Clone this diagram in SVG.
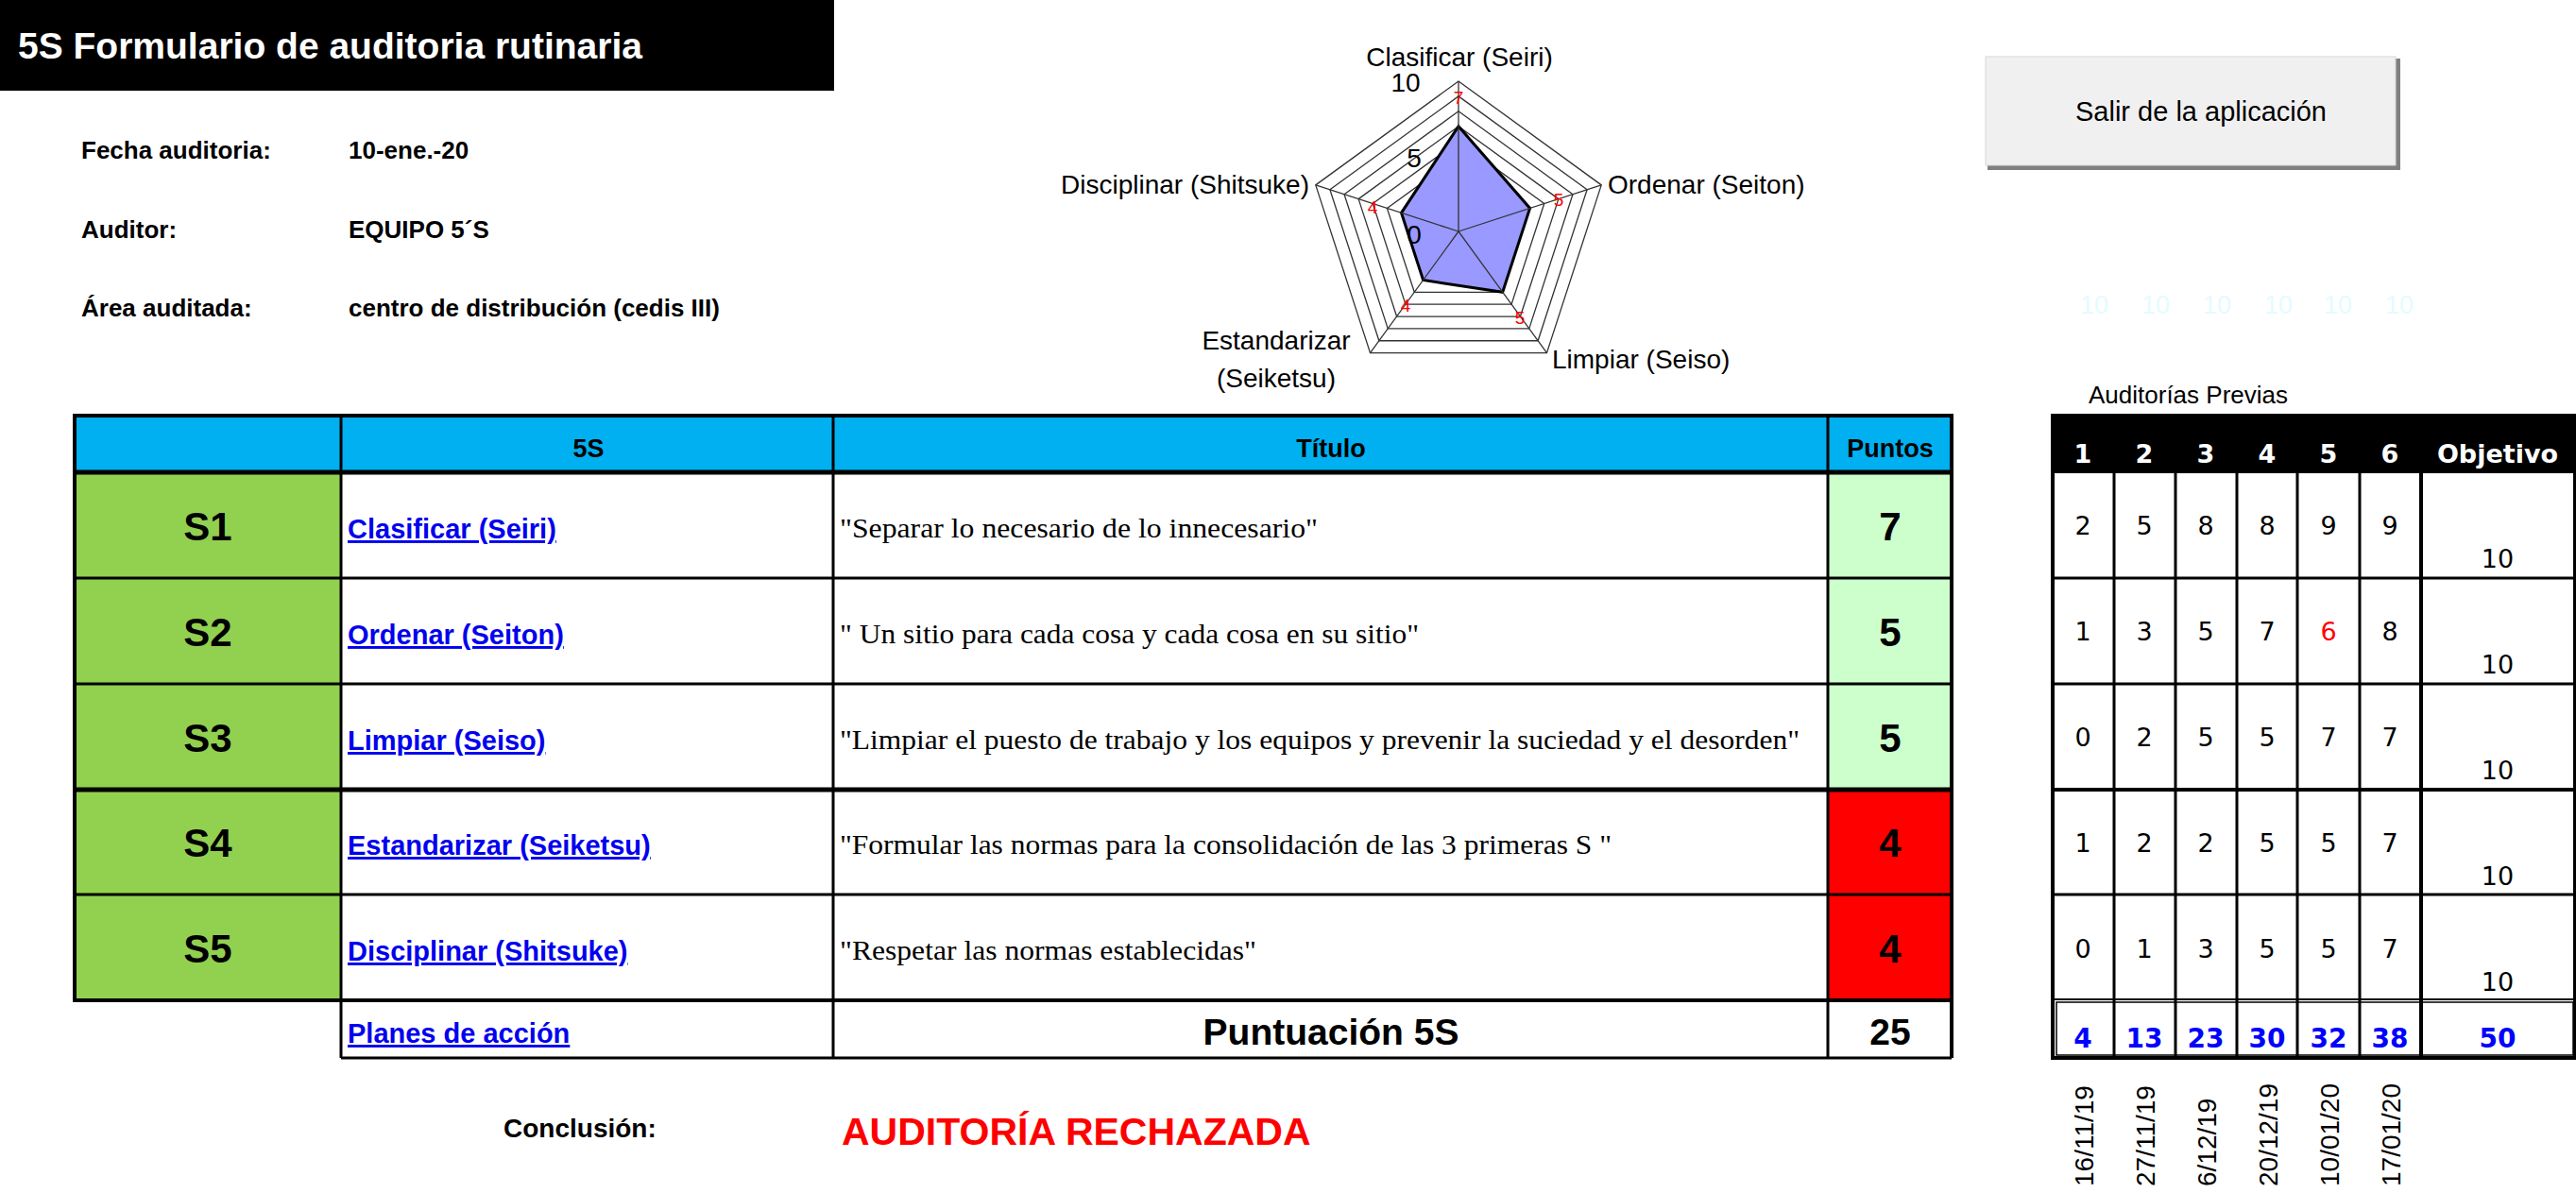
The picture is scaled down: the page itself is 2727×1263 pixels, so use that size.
<svg xmlns="http://www.w3.org/2000/svg" xmlns:xlink="http://www.w3.org/1999/xlink" width="2727" height="1263" viewBox="0 0 2727 1263">
<style>
.a{font-family:"Liberation Sans",Arial,sans-serif}
.b{font-family:"Liberation Sans",Arial,sans-serif;font-weight:bold}
.lk{font-family:"Liberation Sans",Arial,sans-serif;font-weight:bold;font-size:29px;fill:#0000ee;text-decoration:underline}
.t{font-family:"Liberation Serif","Times New Roman",serif;font-size:30px}
.c{stroke:#000;stroke-width:3;fill:none}
.s{font-family:"Liberation Sans",Arial,sans-serif;font-weight:bold;font-size:42px;text-anchor:middle}
.n{font-family:"DejaVu Sans",sans-serif;font-size:27px;text-anchor:middle}
.tb{font-family:"DejaVu Sans",sans-serif;font-weight:bold;font-size:28px;text-anchor:middle;fill:#0000ff}
.h{font-family:"DejaVu Sans",sans-serif;font-weight:bold;font-size:27px;text-anchor:middle;fill:#fff}
.d{font-family:"Liberation Sans",Arial,sans-serif;font-size:28px}
.rl{font-family:"Liberation Sans",Arial,sans-serif;font-size:28px}
.rv{font-family:"Liberation Sans",Arial,sans-serif;font-size:19px;fill:#ff0000;text-anchor:middle}
</style>
<defs>
<polygon id="pent" points="0,-1 0.9511,-0.309 0.5878,0.809 -0.5878,0.809 -0.9511,-0.309" fill="#fff" stroke="#333" stroke-width="1.3" vector-effect="non-scaling-stroke"/>
</defs>
<rect width="2727" height="1263" fill="#fff"/>

<g id="title">
<rect x="0" y="0" width="883" height="96" fill="#000"/>
<text class="b" x="19" y="62" font-size="39" fill="#fff">5S Formulario de auditoria rutinaria</text>
</g>
<g id="info">
<text class="b" x="86" y="168" font-size="26">Fecha auditoria:</text>
<text class="b" x="369" y="168" font-size="26">10-ene.-20</text>
<text class="b" x="86" y="252" font-size="26">Auditor:</text>
<text class="b" x="369" y="252" font-size="26">EQUIPO 5´S</text>
<text class="b" x="86" y="335" font-size="26">Área auditada:</text>
<text class="b" x="369" y="335" font-size="26">centro de distribución (cedis III)</text>
</g>

<g id="radar">
<use href="#pent" transform="translate(1544,245) scale(159)"/>
<use href="#pent" transform="translate(1544,245) scale(143.1)"/>
<use href="#pent" transform="translate(1544,245) scale(127.2)"/>
<use href="#pent" transform="translate(1544,245) scale(111.3)"/>
<use href="#pent" transform="translate(1544,245) scale(95.4)"/>
<use href="#pent" transform="translate(1544,245) scale(79.5)"/>
<use href="#pent" transform="translate(1544,245) scale(63.6)"/>
<use href="#pent" transform="translate(1544,245) scale(47.7)"/>
<use href="#pent" transform="translate(1544,245) scale(31.8)"/>
<use href="#pent" transform="translate(1544,245) scale(15.9)"/>
<polygon points="1544,133.7 1619.6,220.4 1590.7,309.3 1506.6,296.5 1483.5,225.3" fill="#9999ff" stroke="#000" stroke-width="3"/>
<g stroke="#333" stroke-width="1.3">
<line x1="1544" y1="245" x2="1544" y2="86"/>
<line x1="1544" y1="245" x2="1695.2" y2="195.9"/>
<line x1="1544" y1="245" x2="1637.5" y2="373.6"/>
<line x1="1544" y1="245" x2="1450.5" y2="373.6"/>
<line x1="1544" y1="245" x2="1392.8" y2="195.9"/>
</g>
<text class="rl" x="1488" y="97" font-size="30" text-anchor="middle">10</text>
<text class="rl" x="1497" y="177" font-size="30" text-anchor="middle">5</text>
<text class="rl" x="1497" y="258" font-size="30" text-anchor="middle">0</text>
<text class="rv" x="1544" y="110">7</text>
<text class="rv" x="1650" y="218">5</text>
<text class="rv" x="1609" y="343">5</text>
<text class="rv" x="1488" y="330">4</text>
<text class="rv" x="1453" y="226">4</text>
<text class="rl" x="1545" y="70" text-anchor="middle">Clasificar (Seiri)</text>
<text class="rl" x="1702" y="205">Ordenar (Seiton)</text>
<text class="rl" x="1386" y="205" text-anchor="end">Disciplinar (Shitsuke)</text>
<text class="rl" x="1643" y="390">Limpiar (Seiso)</text>
<text class="rl" x="1351" y="370" text-anchor="middle">Estandarizar</text>
<text class="rl" x="1351" y="410" text-anchor="middle">(Seiketsu)</text>
</g>

<g id="button">
<rect x="2104" y="62" width="437" height="118" fill="#808080"/>
<rect x="2102" y="60" width="434" height="115" fill="#f0f0f0" stroke="#d8d8d8" stroke-width="1"/>
<text class="a" x="2330" y="128" font-size="29" text-anchor="middle">Salir de la aplicación</text>
</g>

<g id="ghost" class="a" font-size="27" fill="#e4fbff" text-anchor="middle">
<text x="2217" y="332">10</text><text x="2282" y="332">10</text><text x="2347" y="332">10</text>
<text x="2412" y="332">10</text><text x="2475" y="332">10</text><text x="2540" y="332">10</text>
</g>

<g id="main-table">
<rect x="79" y="440" width="1987" height="60" fill="#00b0f0"/>
<rect x="79" y="500" width="282" height="559" fill="#92d050"/>
<rect x="1935" y="500" width="131" height="336" fill="#ccffcc"/>
<rect x="1935" y="836" width="131" height="223" fill="#ff0000"/>
<g stroke="#000" stroke-width="3" fill="none">
<rect x="79" y="440" width="1987" height="619" stroke-width="4"/>
<line x1="79" y1="500" x2="2066" y2="500" stroke-width="5"/>
<line x1="79" y1="612" x2="2066" y2="612"/>
<line x1="79" y1="724" x2="2066" y2="724"/>
<line x1="79" y1="836" x2="2066" y2="836" stroke-width="5"/>
<line x1="79" y1="947" x2="2066" y2="947"/>
<line x1="361" y1="440" x2="361" y2="1120"/>
<line x1="882" y1="440" x2="882" y2="1120"/>
<line x1="1935" y1="440" x2="1935" y2="1120"/>
<line x1="2066" y1="1059" x2="2066" y2="1120" stroke-width="4"/>
<line x1="361" y1="1120" x2="2066" y2="1120"/>
</g>
<text class="b" x="623" y="484" font-size="27" text-anchor="middle">5S</text>
<text class="b" x="1409" y="484" font-size="27" text-anchor="middle">Título</text>
<text class="b" x="2001" y="484" font-size="27" text-anchor="middle">Puntos</text>
</g>

<g id="row-s1">
<text class="s" x="220" y="572">S1</text>
<text class="lk" x="368" y="570">Clasificar (Seiri)</text>
<text class="t" x="889" y="569" textLength="506" lengthAdjust="spacingAndGlyphs">"Separar lo necesario de lo innecesario"</text>
<text class="s" x="2001" y="572">7</text>
</g>
<g id="row-s2">
<text class="s" x="220" y="684">S2</text>
<text class="lk" x="368" y="682">Ordenar (Seiton)</text>
<text class="t" x="889" y="681" textLength="613" lengthAdjust="spacingAndGlyphs">" Un sitio para cada cosa y cada cosa en su sitio"</text>
<text class="s" x="2001" y="684">5</text>
</g>
<g id="row-s3">
<text class="s" x="220" y="796">S3</text>
<text class="lk" x="368" y="794">Limpiar (Seiso)</text>
<text class="t" x="889" y="793" textLength="1016" lengthAdjust="spacingAndGlyphs">"Limpiar el puesto de trabajo y los equipos y prevenir la suciedad y el desorden"</text>
<text class="s" x="2001" y="796">5</text>
</g>
<g id="row-s4">
<text class="s" x="220" y="907">S4</text>
<text class="lk" x="368" y="905">Estandarizar (Seiketsu)</text>
<text class="t" x="889" y="904" textLength="817" lengthAdjust="spacingAndGlyphs">"Formular las normas para la consolidación de las 3 primeras S "</text>
<text class="s" x="2001" y="907">4</text>
</g>
<g id="row-s5">
<text class="s" x="220" y="1019">S5</text>
<text class="lk" x="368" y="1017">Disciplinar (Shitsuke)</text>
<text class="t" x="889" y="1016" textLength="441" lengthAdjust="spacingAndGlyphs">"Respetar las normas establecidas"</text>
<text class="s" x="2001" y="1019">4</text>
</g>
<g id="row-total">
<text class="lk" x="368" y="1104">Planes de acción</text>
<text class="b" x="1409" y="1106" font-size="39" text-anchor="middle">Puntuación 5S</text>
<text class="b" x="2001" y="1106" font-size="39" text-anchor="middle">25</text>
</g>
<g id="conclusion">
<text class="b" x="533" y="1204" font-size="28">Conclusión:</text>
<text class="b" x="891" y="1212" font-size="41" fill="#ff0000">AUDITORÍA RECHAZADA</text>
</g>

<g id="previous">
<text class="a" x="2211" y="427" font-size="26">Auditorías Previas</text>
<rect x="2173" y="440" width="553" height="61" fill="#000"/>
<g stroke="#000" stroke-width="3" fill="none">
<rect x="2173" y="440" width="553" height="680" stroke-width="4"/>
<line x1="2173" y1="612" x2="2726" y2="612"/>
<line x1="2173" y1="724" x2="2726" y2="724"/>
<line x1="2173" y1="836" x2="2726" y2="836" stroke-width="4"/>
<line x1="2173" y1="947" x2="2726" y2="947"/>
<rect x="2177" y="1061" width="547" height="56" stroke-width="1.5"/>
<line x1="2173" y1="1058" x2="2726" y2="1058" stroke-width="2"/>
<line x1="2238" y1="501" x2="2238" y2="1120"/>
<line x1="2303" y1="501" x2="2303" y2="1120"/>
<line x1="2368" y1="501" x2="2368" y2="1120"/>
<line x1="2432" y1="501" x2="2432" y2="1120"/>
<line x1="2498" y1="501" x2="2498" y2="1120"/>
<line x1="2563" y1="501" x2="2563" y2="1120" stroke-width="4"/>
</g>
<text class="h" x="2205" y="490">1</text><text class="h" x="2270" y="490">2</text><text class="h" x="2335" y="490">3</text>
<text class="h" x="2400" y="490">4</text><text class="h" x="2465" y="490">5</text><text class="h" x="2530" y="490">6</text>
<text class="h" x="2644" y="490">Objetivo</text>
<g class="n">
<text x="2205" y="566">2</text><text x="2270" y="566">5</text><text x="2335" y="566">8</text><text x="2400" y="566">8</text><text x="2465" y="566">9</text><text x="2530" y="566">9</text><text x="2644" y="601">10</text>
<text x="2205" y="678">1</text><text x="2270" y="678">3</text><text x="2335" y="678">5</text><text x="2400" y="678">7</text><text x="2465" y="678" fill="#ff0000">6</text><text x="2530" y="678">8</text><text x="2644" y="713">10</text>
<text x="2205" y="790">0</text><text x="2270" y="790">2</text><text x="2335" y="790">5</text><text x="2400" y="790">5</text><text x="2465" y="790">7</text><text x="2530" y="790">7</text><text x="2644" y="825">10</text>
<text x="2205" y="902">1</text><text x="2270" y="902">2</text><text x="2335" y="902">2</text><text x="2400" y="902">5</text><text x="2465" y="902">5</text><text x="2530" y="902">7</text><text x="2644" y="937">10</text>
<text x="2205" y="1014">0</text><text x="2270" y="1014">1</text><text x="2335" y="1014">3</text><text x="2400" y="1014">5</text><text x="2465" y="1014">5</text><text x="2530" y="1014">7</text><text x="2644" y="1049">10</text>
</g>
<text class="tb" x="2205" y="1109">4</text><text class="tb" x="2270" y="1109">13</text><text class="tb" x="2335" y="1109">23</text>
<text class="tb" x="2400" y="1109">30</text><text class="tb" x="2465" y="1109">32</text><text class="tb" x="2530" y="1109">38</text>
<text class="tb" x="2644" y="1109">50</text>
<g class="d">
<text transform="translate(2216,1256) rotate(-90)">16/11/19</text>
<text transform="translate(2281,1256) rotate(-90)">27/11/19</text>
<text transform="translate(2346,1256) rotate(-90)">6/12/19</text>
<text transform="translate(2411,1256) rotate(-90)">20/12/19</text>
<text transform="translate(2476,1256) rotate(-90)">10/01/20</text>
<text transform="translate(2541,1256) rotate(-90)">17/01/20</text>
</g>
</g>
</svg>
